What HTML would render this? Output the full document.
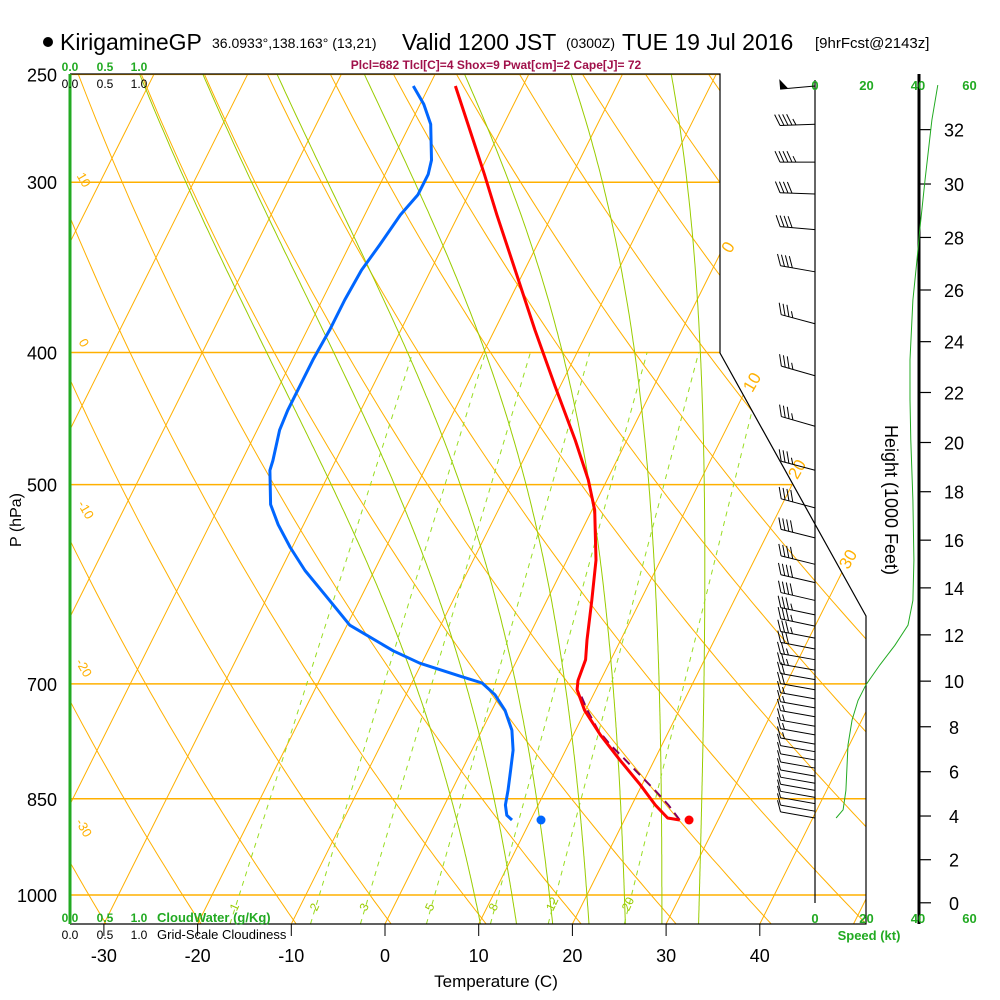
<!DOCTYPE html>
<html><head><meta charset="utf-8"><style>
html,body{margin:0;padding:0;background:#fff;}
svg{display:block;font-family:"Liberation Sans",sans-serif;}
</style></head><body>
<svg id="chart" width="1000" height="1000" viewBox="0 0 1000 1000" xmlns="http://www.w3.org/2000/svg">
<defs><clipPath id="plotClip"><polygon points="70,74 720,74 720,353 866,616 866,924 70,924"/></clipPath></defs>
<g>
<circle cx="48" cy="42" r="5" fill="#000"/>
<text x="60" y="50" font-size="23" fill="#000">KirigamineGP</text>
<text x="212" y="48" font-size="14" fill="#000">36.0933°,138.163° (13,21)</text>
<text x="402" y="50" font-size="23" fill="#000">Valid 1200 JST</text>
<text x="566" y="48" font-size="14" fill="#000">(0300Z)</text>
<text x="622" y="50" font-size="23" fill="#000">TUE 19 Jul 2016</text>
<text x="815" y="48" font-size="15" fill="#000">[9hrFcst@2143z]</text>
</g>
<text x="496" y="69" font-size="12" font-weight="bold" fill="#a0104a" text-anchor="middle">Plcl=682 Tlcl[C]=4 Shox=9 Pwat[cm]=2 Cape[J]= 72</text>
<g id="grid" clip-path="url(#plotClip)"></g>
<g id="frame">
<polyline points="70,74 720,74 720,353 866,616 866,924 70,924" fill="none" stroke="#000" stroke-width="1.2"/>
<line x1="70" y1="74" x2="70" y2="924" stroke="#22aa22" stroke-width="3"/>
</g>
<g id="series" clip-path="url(#plotClip)"></g>
<g id="axes"></g>
<g id="wind"></g>
</svg>
<script>
// ---- data ----
const pressLevels=[250,300,400,500,700,850,1000];
const tempTicks=[-30,-20,-10,0,10,20,30,40];
const tempP=[255,274.7,296,317,348,385,423,464,496,522,568,608,650,672,696,707,732,763,796,830,859,878,881];
const tempT=[-37.2,-33.3,-29.4,-25.9,-21.0,-15.7,-10.6,-5.5,-2.0,0.3,3.1,4.8,6.4,7.3,7.6,8.0,9.9,12.9,16.3,19.8,22.5,24.5,25.9];
const dewP=[255,263,272,289,296,306.5,317,333.5,348,366,385,405,423,441,456,480,488,517,535,556,578,602,634,662,676,691,699,713,732,757,783,810,838,859,874,881];
const dewT=[-41.7,-39.6,-37.8,-35.8,-35.4,-35.4,-36.2,-36.8,-37.4,-37.6,-37.6,-37.8,-37.8,-37.8,-37.6,-36.7,-36.5,-34.6,-32.7,-30.2,-27.4,-24.0,-19.7,-13.7,-10.2,-5.2,-2.5,-0.5,1.4,3.2,4.4,5.2,6.0,6.5,7.2,8.0];
const parcelP=[881,859,838,817,796,776,757,732,710];
const parcelT=[25.9,23.9,21.7,19.3,16.9,14.5,12.4,10.2,8.4];
const sfcP=881, sfcT=26.9, sfcTd=11.1;
const speedP=[878,866,838,776,744,720,701,678,656,634,608,568,513,464,433,405,366,342,325,299,270,254.6];
const speedKt=[8.2,10.9,12.0,12.8,14.4,16.7,19.8,25.2,31.0,36.1,38.0,38.4,38.0,37.2,36.9,36.9,38.0,39.6,40.7,42.7,45.4,47.7];
const barbP=[255,272,290,306,325,349,381,416,453,488,520,547,572,590,608,623,635,648,660,672,684,695,707,718,729,740,752,763,775,785,796,807,818,828,838,848,857,868,878];
const barbKt=[50,45,43,42,41,39,37,37,37,37,38,38,38,38,38,37,36,33,30,27,24,21,19,17,16,15,14,13,13,12,12,12,12,12,12,11,11,10,8];
const barbDir=[265,268,270,272,275,280,285,286,286,285,285,284,284,283,283,282,282,281,281,280,280,280,280,280,280,280,280,280,280,280,280,280,280,280,280,280,280,280,280];
const heightTicks=[0,2,4,6,8,10,12,14,16,18,20,22,24,26,28,30,32];
const speedTicks=[0,20,40,60];
const mixRatios=[1,2,3,5,8,12,20];
const moistStarts=[8,12,16,20,24,28,32];

// ---- scales ----
const NS="http://www.w3.org/2000/svg";
function yP(p){return 895-592*Math.log(1000/p);}
function xT(T,p){return 385+9.37*T+0.5*(924-yP(p));}
function xS(kt){return 815+kt*51.5/20;}
function el(tag,attrs,parent){const e=document.createElementNS(NS,tag);for(const k in attrs)e.setAttribute(k,attrs[k]);parent.appendChild(e);return e;}
function txt(s,attrs,parent){const e=el('text',attrs,parent);e.textContent=s;return e;}
const grid=document.getElementById('grid'),series=document.getElementById('series'),axes=document.getElementById('axes'),wind=document.getElementById('wind');
const ORANGE="#ffb000", MGREEN="#99cc00";

pressLevels.forEach(p=>{const y=yP(p);
 const l=el('line',{x1:70,y1:y,x2:870,y2:y,stroke:ORANGE,'stroke-width':1.5},grid);
 
 
});
for(let T=-120;T<=50;T+=10){
 const l=el('line',{x1:xT(T,1060),y1:yP(1060),x2:xT(T,240),y2:yP(240),stroke:ORANGE,'stroke-width':1},grid);
 
 
}
for(let th=230;th<=500;th+=10){
 let pts=[];for(let p=1060;p>=240;p-=10){const T=th*Math.pow(p/1000,0.286)-273.15;pts.push(xT(T,p).toFixed(1)+','+yP(p).toFixed(1));}
 const l=el('polyline',{points:pts.join(' '),fill:'none',stroke:ORANGE,'stroke-width':1},grid);
 
 
}
function es(T){return 6.112*Math.exp(17.67*T/(T+243.5));}
function moistRate(T,p){const Tk=T+273.15,e=es(T),rs=0.622*e/(p-e),Rd=287,Lv=2.5e6,cp=1004;
 return (Rd*Tk+Lv*rs)/(p*(cp+Lv*Lv*rs*0.622/(Rd*Tk*Tk)));}
moistStarts.forEach(T0=>{
 let up=[],T=T0;for(let p=1000;p>=245;p-=2.5){up.push([T,p]);T-=moistRate(T,p)*2.5;}
 let dn=[];T=T0;for(let p=1000;p<=1060;p+=2.5){dn.unshift([T,p]);T+=moistRate(T,p)*2.5;}
 const pts=dn.concat(up).map(a=>xT(a[0],a[1]).toFixed(1)+','+yP(a[1]).toFixed(1));
 const l=el('polyline',{points:pts.join(' '),fill:'none',stroke:MGREEN,'stroke-width':1},grid);
 
 
});
function tdFromW(w,p){const e=w*p/(622+w),a=Math.log(e/6.112);return 243.5*a/(17.67-a);}
mixRatios.forEach(w=>{
 const p1=1050,p2=400;
 const l=el('line',{x1:xT(tdFromW(w,p1),p1),y1:yP(p1),x2:xT(tdFromW(w,p2),p2),y2:yP(p2),stroke:"#99dd22",'stroke-width':1,'stroke-dasharray':'5,5'},grid);
 
 
 const lx=xT(tdFromW(w,1000),1000)-6;
 const t=txt(String(w),{x:lx,y:914,'font-size':12,fill:MGREEN,transform:'rotate(-65 '+lx+' 910)'},axes);
 
 
});
[[0,733,250],[10,757,385],[20,802,472],[30,853,562]].forEach(a=>{
 const t=txt(String(a[0]),{x:a[1],y:a[2],'font-size':17,fill:ORANGE,'text-anchor':'middle',transform:'rotate(-60 '+a[1]+' '+a[2]+')'},axes);
 
 
});
[[10,80,182],[0,80,345],[-10,82,512],[-20,80,670],[-30,80,830]].forEach(a=>{
 const t=txt(String(a[0]),{x:a[1],y:a[2],'font-size':13,fill:ORANGE,'text-anchor':'middle',transform:'rotate(60 '+a[1]+' '+a[2]+')'},axes);
 
 
});

function path(P,T){return P.map((p,i)=>xT(T[i],p).toFixed(1)+','+yP(p).toFixed(1)).join(' ');}
let s=el('polyline',{points:path(parcelP,parcelT),fill:'none',stroke:'#800060','stroke-width':2,'stroke-dasharray':'9,6'},series);


s=el('polyline',{points:path(dewP,dewT),fill:'none',stroke:'#0066ff','stroke-width':3,'stroke-linejoin':'round'},series);


s=el('polyline',{points:path(tempP,tempT),fill:'none',stroke:'#ff0000','stroke-width':3,'stroke-linejoin':'round'},series);


s=el('circle',{cx:xT(sfcT,sfcP),cy:yP(sfcP),r:4.5,fill:'#ff0000'},series);


s=el('circle',{cx:xT(sfcTd,sfcP),cy:yP(sfcP),r:4.5,fill:'#0066ff'},series);



pressLevels.forEach(p=>{
 const t=txt(String(p),{x:57,y:yP(p)+7,'font-size':18,'text-anchor':'end',fill:'#000'},axes);
 
 
});
tempTicks.forEach(T=>{const x=385+9.37*T;
 const l=el('line',{x1:x,y1:924,x2:x,y2:936,stroke:'#000','stroke-width':1},axes);
 
 
 const t=txt(String(T),{x:x,y:962,'font-size':18,'text-anchor':'middle',fill:'#000'},axes);
 
 
});
let t=txt('Temperature (C)',{x:496,y:987,'font-size':17,'text-anchor':'middle',fill:'#000'},axes);


t=txt('P (hPa)',{x:21,y:520,'font-size':16,'text-anchor':'middle',fill:'#000',transform:'rotate(-90 21 520)'},axes);


[[70,'0.0'],[105,'0.5'],[139,'1.0']].forEach(a=>{
 let q=txt(a[1],{x:a[0],y:71,'font-size':12,'font-weight':'bold',fill:'#22aa22','text-anchor':'middle'},axes);
 
 
 q=txt(a[1],{x:a[0],y:88,'font-size':12,fill:'#000','text-anchor':'middle'},axes);
 
 
 q=txt(a[1],{x:a[0],y:922,'font-size':12,'font-weight':'bold',fill:'#22aa22','text-anchor':'middle'},axes);
 
 
 q=txt(a[1],{x:a[0],y:939,'font-size':12,fill:'#000','text-anchor':'middle'},axes);
 
 
});
t=txt('CloudWater (g/Kg)',{x:157,y:922,'font-size':13,'font-weight':'bold',fill:'#22aa22'},axes);


t=txt('Grid-Scale Cloudiness',{x:157,y:939,'font-size':13,fill:'#000'},axes);



el('line',{x1:815,y1:80,x2:815,y2:903,stroke:'#000','stroke-width':1.2},wind);
el('line',{x1:919,y1:74,x2:919,y2:924,stroke:'#000','stroke-width':3},wind);
speedTicks.forEach(v=>{
 let q=txt(String(v),{x:xS(v),y:90,'font-size':13,'font-weight':'bold',fill:'#22aa22','text-anchor':'middle'},wind);
 
 
 q=txt(String(v),{x:xS(v),y:923,'font-size':13,'font-weight':'bold',fill:'#22aa22','text-anchor':'middle'},wind);
 
 
});
t=txt('Speed (kt)',{x:869,y:940,'font-size':13,'font-weight':'bold',fill:'#22aa22','text-anchor':'middle'},wind);


heightTicks.forEach(h=>{
 const p=1013.25*Math.pow(1-6.8756e-6*h*1000,5.2559),y=yP(p);
 el('line',{x1:919,y1:y,x2:931,y2:y,stroke:'#000','stroke-width':1.2},wind);
 const q=txt(String(h),{x:954,y:y+7,'font-size':18,'text-anchor':'middle',fill:'#000'},wind);
 
 
});
t=txt('Height (1000 Feet)',{x:885,y:500,'font-size':18,'text-anchor':'middle',fill:'#000',transform:'rotate(90 885 500)'},wind);


s=el('polyline',{points:speedP.map((p,i)=>xS(speedKt[i]).toFixed(1)+','+yP(p).toFixed(1)).join(' '),fill:'none',stroke:'#22aa22','stroke-width':1},wind);


barbP.forEach((p,i)=>{
 const g=el('g',{},wind);
 
 
 const y=yP(p),a=barbDir[i]*Math.PI/180;
 const ux=Math.sin(a), uy=-Math.cos(a);
 const L=35, tx=815+ux*L, ty=y+uy*L;
 el('line',{x1:815,y1:y,x2:tx,y2:ty,stroke:'#000','stroke-width':1},g);
 const fx=-uy, fy=ux; // perpendicular pointing up
 let kt=Math.round(barbKt[i]/5)*5, pos=0;
 while(kt>=50){const bx=tx-ux*pos,by=ty-uy*pos;
  el('polygon',{points:`${bx},${by} ${bx-ux*8},${by-uy*8} ${bx+fx*10},${by+fy*10}`,fill:'#000'},g);kt-=50;pos+=10;}
 while(kt>=10){const bx=tx-ux*pos,by=ty-uy*pos;
  el('line',{x1:bx,y1:by,x2:bx+fx*11+ux*5,y2:by+fy*11+uy*5,stroke:'#000','stroke-width':1},g);kt-=10;pos+=4;}
 if(kt>=5){const bx=tx-ux*pos,by=ty-uy*pos;
  el('line',{x1:bx,y1:by,x2:bx+fx*6+ux*3,y2:by+fy*6+uy*3,stroke:'#000','stroke-width':1},g);}
});
</script>
</body></html>
